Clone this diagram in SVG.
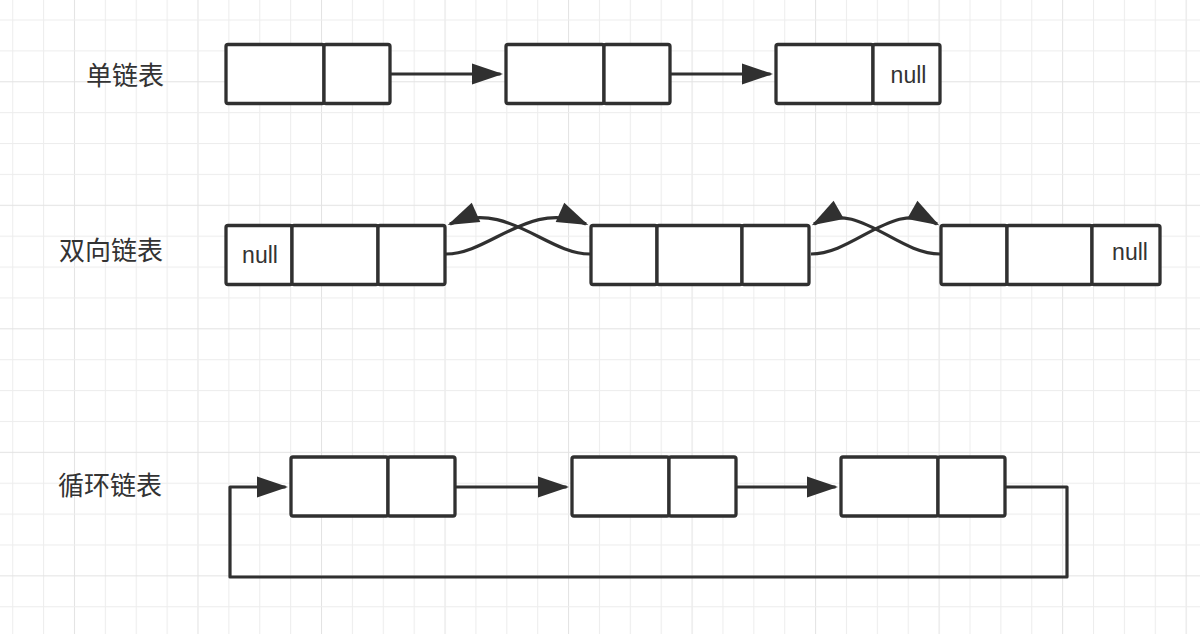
<svg xmlns="http://www.w3.org/2000/svg" width="1200" height="634" viewBox="0 0 1200 634">
<style>
.cell{fill:#ffffff;stroke:#303030;stroke-width:3.3;stroke-linejoin:round}
.edge{fill:none;stroke:#303030;stroke-width:3.2;stroke-linejoin:round}
.lbl{font-family:"Noto Sans CJK SC","Noto Sans",sans-serif;font-size:26px;fill:#333333}
.nul{font-family:"Liberation Sans",Arial,sans-serif;font-size:23px;fill:#333333;text-anchor:middle}
</style>
<defs>
<pattern id="grid" patternUnits="userSpaceOnUse" x="12.2" y="19.5" width="123.52" height="123.52">
<rect x="0" y="0" width="123.52" height="123.52" fill="#ffffff"/>
<rect x="0" y="0" width="1" height="123.52" fill="#ededed"/>
<rect x="30.88" y="0" width="1" height="123.52" fill="#ededed"/>
<rect x="61.76" y="0" width="1" height="123.52" fill="#e3e3e3"/>
<rect x="92.64" y="0" width="1" height="123.52" fill="#ededed"/>
<rect x="0" y="0" width="123.52" height="1" fill="#ededed"/>
<rect x="0" y="30.88" width="123.52" height="1" fill="#ededed"/>
<rect x="0" y="61.76" width="123.52" height="1" fill="#e3e3e3"/>
<rect x="0" y="92.64" width="123.52" height="1" fill="#ededed"/>
</pattern>
<marker id="arr" markerUnits="userSpaceOnUse" markerWidth="32" markerHeight="22" refX="28.5" refY="10.5" orient="auto" overflow="visible">
<path d="M0,0 L31,10.5 L0,21 Z" fill="#303030"/>
</marker>
</defs>
<rect x="0" y="0" width="1200" height="634" fill="url(#grid)"/>

<g id="labels">
<text class="lbl" x="86" y="85">单链表</text>
<text class="lbl" x="59" y="260">双向链表</text>
<text class="lbl" x="58" y="495">循环链表</text>
</g>

<g id="connectors">
<path class="edge" d="M391,74 H500.5" marker-end="url(#arr)"/>
<path class="edge" d="M671,74 H770.5" marker-end="url(#arr)"/>
<path class="edge" d="M446,254 C490,254 530,199 586,224" marker-end="url(#arr)"/>
<path class="edge" d="M590,254 C546,254 506,199 450,224" marker-end="url(#arr)"/>
<path class="edge" d="M811,254 C855,254 893,199 937,224" marker-end="url(#arr)"/>
<path class="edge" d="M940,254 C896,254 858,199 814,224" marker-end="url(#arr)"/>
<path class="edge" d="M456,487 H566.5" marker-end="url(#arr)"/>
<path class="edge" d="M737,487 H835.5" marker-end="url(#arr)"/>
<path class="edge" d="M1006,487 H1067 V577 H230 V487 H285.5" marker-end="url(#arr)"/>
</g>

<g id="s1">
<rect class="cell" x="226" y="44.5" width="98" height="59" rx="2"/>
<rect class="cell" x="324" y="44.5" width="66" height="59" rx="2"/>
</g>
<g id="s2">
<rect class="cell" x="506" y="44.5" width="98" height="59" rx="2"/>
<rect class="cell" x="604" y="44.5" width="66" height="59" rx="2"/>
</g>
<g id="s3">
<rect class="cell" x="776" y="44.5" width="97" height="59" rx="2"/>
<rect class="cell" x="873" y="44.5" width="67" height="59" rx="2"/>
<text class="nul" x="908.5" y="83">null</text>
</g>

<g id="d1">
<rect class="cell" x="226" y="225.5" width="66" height="59" rx="2"/>
<rect class="cell" x="292" y="225.5" width="86" height="59" rx="2"/>
<rect class="cell" x="378" y="225.5" width="67" height="59" rx="2"/>
<text class="nul" x="260" y="263">null</text>
</g>
<g id="d2">
<rect class="cell" x="591" y="225.5" width="66" height="59" rx="2"/>
<rect class="cell" x="657" y="225.5" width="85" height="59" rx="2"/>
<rect class="cell" x="742" y="225.5" width="67" height="59" rx="2"/>
</g>
<g id="d3">
<rect class="cell" x="941" y="225.5" width="66" height="59" rx="2"/>
<rect class="cell" x="1007" y="225.5" width="85" height="59" rx="2"/>
<rect class="cell" x="1092" y="225.5" width="68" height="59" rx="2"/>
<text class="nul" x="1130" y="260">null</text>
</g>

<g id="c1">
<rect class="cell" x="291" y="457" width="97" height="59" rx="2"/>
<rect class="cell" x="388" y="457" width="67" height="59" rx="2"/>
</g>
<g id="c2">
<rect class="cell" x="572" y="457" width="97" height="59" rx="2"/>
<rect class="cell" x="669" y="457" width="67" height="59" rx="2"/>
</g>
<g id="c3">
<rect class="cell" x="841" y="457" width="97" height="59" rx="2"/>
<rect class="cell" x="938" y="457" width="67" height="59" rx="2"/>
</g>
</svg>
